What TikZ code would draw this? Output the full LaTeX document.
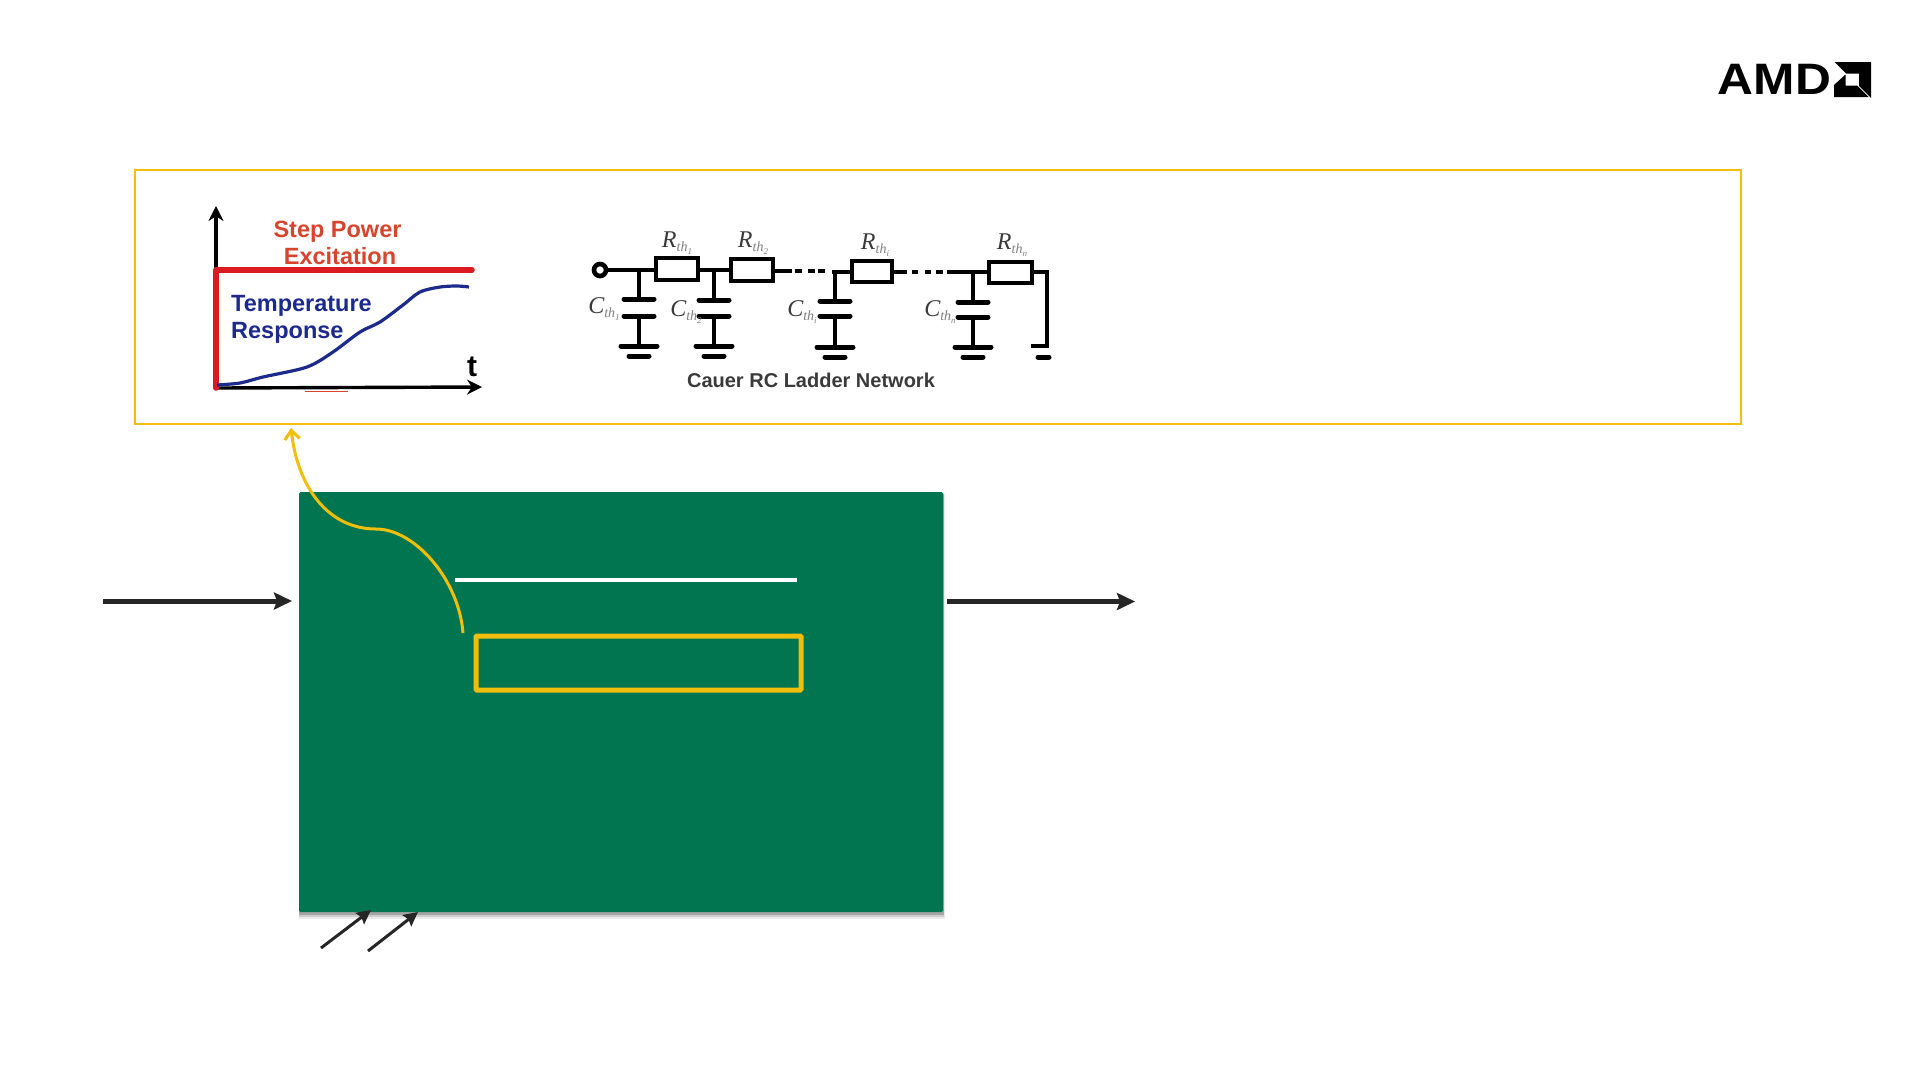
\documentclass[tikz,border=0pt]{standalone}
\usepackage{fontspec}
\setmainfont{Liberation Sans}
\newfontfamily\lserif{Liberation Serif}
\usetikzlibrary{arrows.meta}
\definecolor{amdgreen}{HTML}{00754F}
\definecolor{amdyellow}{HTML}{F2BE0C}
\definecolor{arrowdark}{HTML}{262626}
\definecolor{stepred}{HTML}{D8452E}
\definecolor{linered}{HTML}{DC1A22}
\definecolor{tempblue}{HTML}{1B2A8C}
\definecolor{circuitgray}{HTML}{3A3A3A}
\tikzset{
  box/.style={inner sep=0pt,outer sep=0pt,minimum width=#1},
  heavyarrow/.style={draw=arrowdark,line width=5pt,-{Stealth[length=18pt,width=17pt,inset=3pt]}},
  lightarrow/.style={draw=arrowdark,line width=3pt,-{Stealth[length=14pt,width=14pt,inset=2pt]}},
  curvearrow/.style={draw=amdyellow,line width=3pt,-{Straight Barb[length=9pt,width=15pt,line width=3pt]}},
  axisarrow/.style={draw=black,line width=3.4pt,-{Stealth[length=15pt,width=15pt]}},
  wire/.style={draw=black,line width=4.2pt},
  plate/.style={draw=black,line width=5pt,line cap=round},
  gridlabel/.style={inner sep=0pt,text=circuitgray},
  charttext/.style={inner sep=0pt,font=\fontsize{23.5}{25}\selectfont\bfseries,anchor=center},
}
\newcommand{\thlab}[2]{{\lserif\itshape\fontsize{24}{25}\selectfont #1\raisebox{-4pt}{\fontsize{14}{14}\selectfont\color{gray}th\raisebox{-3pt}{\fontsize{9}{9}\selectfont #2}}}}
\newcommand{\capgnd}[8]{%
  \draw[wire] (#1,#8) -- (#1,#2);
  \draw[plate] (#1-#4,#2) -- (#1+#4,#2);
  \draw[plate] (#1-#4,#3) -- (#1+#4,#3);
  \draw[wire] (#1,#3) -- (#1,#5);
  \draw[plate] (#1-#6,#5) -- (#1+#6,#5);
  \draw[plate] (#1-#7,#5+10) -- (#1+#7,#5+10);
}
\begin{document}
\begin{tikzpicture}[x=1pt,y=-1pt]
\useasboundingbox (0,0) rectangle (1920,1080);
\fill[white] (0,0) rectangle (1920,1080);

% AMD logo
\node[inner sep=0pt,anchor=center,xscale=1.13,font=\fontsize{44}{44}\selectfont\bfseries] (amdtext) at (1774.5,79.5) {AMD};
\fill[black] (1834.5,62) -- (1871,62) -- (1871,98) -- (1859,86) -- (1859,73.5) -- (1846,73.5) -- cycle;
\fill[black] (1834,97) -- (1834,85) -- (1845.5,74.5) -- (1845.5,85.5) -- (1857,85.5) -- (1868.5,97) -- cycle;

% Frame
\node[box=1606pt,minimum height=254pt,draw=amdyellow,line width=2pt] (frame) at (938,297) {};

% Chart
\coordinate (origin) at (216,388);
\coordinate (ytop) at (216,206);
\coordinate (xend) at (482,387);
\draw[axisarrow] (origin) -- (ytop);
\draw[axisarrow] (origin) -- (xend);
\draw[draw=linered,line width=5.5pt,line cap=round,line join=round] (216,388) -- (216,270) -- (472,270);
\draw[draw=tempblue,line width=3.2pt] plot[smooth,tension=.5] coordinates
 {(217,385) (240,383) (263,377) (307,367) (333,352) (360,332) (380,322) (403,305) (420,292) (440,287) (457,286) (469,287)};
\draw[draw=stepred,line width=1.8pt] (305,391.5) -- (348,391.5);
\node[charttext,text=stepred] (steplabel) at (337.5,231.5) {Step Power};
\node[charttext,text=stepred] (exclabel) at (340,256.5) {Excitation};
\node[charttext,text=tempblue,anchor=west] (templabel) at (231,306) {Temperature};
\node[charttext,text=tempblue,anchor=west] (resplabel) at (231,333) {Response};
\node[inner sep=0pt,font=\fontsize{30}{30}\selectfont\bfseries] (tlabel) at (472,367) {t};

% Circuit
\draw[wire] (606,270) -- (656,270);
\draw[draw=black,line width=4.6pt] (600,270) circle (6);
\draw[wire] (698,270) -- (731,270);
\draw[wire] (773,271) -- (792,271);
\draw[wire] (795,271) -- (802,271);
\draw[wire] (808,271) -- (815,271);
\draw[wire] (818,271) -- (825,271);
\draw[wire] (832,272) -- (852,272);
\draw[wire] (892,272) -- (907,272);
\draw[wire] (912,272) -- (918,272);
\draw[wire] (925,272) -- (931,272);
\draw[wire] (936,272) -- (943,272);
\draw[wire] (947,272) -- (989,272);
\draw[wire,line width=4.8pt] (1032,272) -- (1047,272) -- (1047,346) -- (1031,346);
\draw[plate] (1038,357) -- (1049,357);
\node[box=42pt,minimum height=22pt,draw=black,line width=4.8pt,fill=white] (r1) at (677,269) {};
\node[box=42pt,minimum height=22pt,draw=black,line width=4.8pt,fill=white] (r2) at (752,270) {};
\node[box=40pt,minimum height=21pt,draw=black,line width=4.8pt,fill=white] (r3) at (872,271.5) {};
\node[box=43pt,minimum height=21pt,draw=black,line width=4.8pt,fill=white] (r4) at (1010.5,272.5) {};
\capgnd{639}{299}{316}{15}{346}{18}{10}{270}
\capgnd{714}{300}{316}{15}{346}{18}{10}{270}
\capgnd{835}{301}{316}{15}{347}{18}{10}{271}
\capgnd{973}{302}{317}{15}{347}{18}{10}{272}
\node[gridlabel] (lr1) at (677,243) {\thlab{R}{1}};
\node[gridlabel] (lr2) at (753,243) {\thlab{R}{2}};
\node[gridlabel] (lr3) at (875,245) {\thlab{R}{i}};
\node[gridlabel] (lr4) at (1012,245) {\thlab{R}{n}};
\node[gridlabel] (lc1) at (604,309) {\thlab{C}{1}};
\node[gridlabel] (lc2) at (686,312) {\thlab{C}{2}};
\node[gridlabel] (lc3) at (802,312) {\thlab{C}{i}};
\node[gridlabel] (lc4) at (940,312) {\thlab{C}{n}};
\node[inner sep=0pt,text=circuitgray,font=\fontsize{20}{22}\selectfont\bfseries] (cauer) at (811,380) {Cauer RC Ladder Network};

% Green block with soft shadow
\fill[black,opacity=.08] (299,494) rectangle (945,919);
\fill[black,opacity=.12] (299,494) rectangle (944,917);
\fill[black,opacity=.20] (299,494) rectangle (944,915);
\node[box=644pt,minimum height=420pt,fill=amdgreen,rounded corners=1.5pt] (green) at (621,702) {};
\draw[draw=white,line width=4pt] (455,580) coordinate (wl) -- (797,580) coordinate (wr);
\node[box=325pt,minimum height=54pt,draw=amdyellow,line width=5pt,rounded corners=1pt] (inner) at (638.5,663) {};

% Connectors
\coordinate (inleft) at (103,601);
\coordinate (intip) at (292,601);
\coordinate (outleft) at (947,601.5);
\coordinate (outtip) at (1135,601.5);
\draw[heavyarrow] (inleft) -- (intip);
\draw[heavyarrow] (outleft) -- (outtip);
\coordinate (a1s) at (321,948);
\coordinate (a1e) at (371,910);
\coordinate (a2s) at (368,951);
\coordinate (a2e) at (418,912);
\draw[lightarrow] (a1s) -- (a1e);
\draw[lightarrow] (a2s) -- (a2e);
\coordinate (cs) at (463,633);
\coordinate (cm) at (376,529);
\coordinate (ce) at (291,428);
\draw[curvearrow] (cs) .. controls (459,580) and (415,529) .. (cm) .. controls (330,529) and (298,490) .. (ce);
\end{tikzpicture}
\end{document}
